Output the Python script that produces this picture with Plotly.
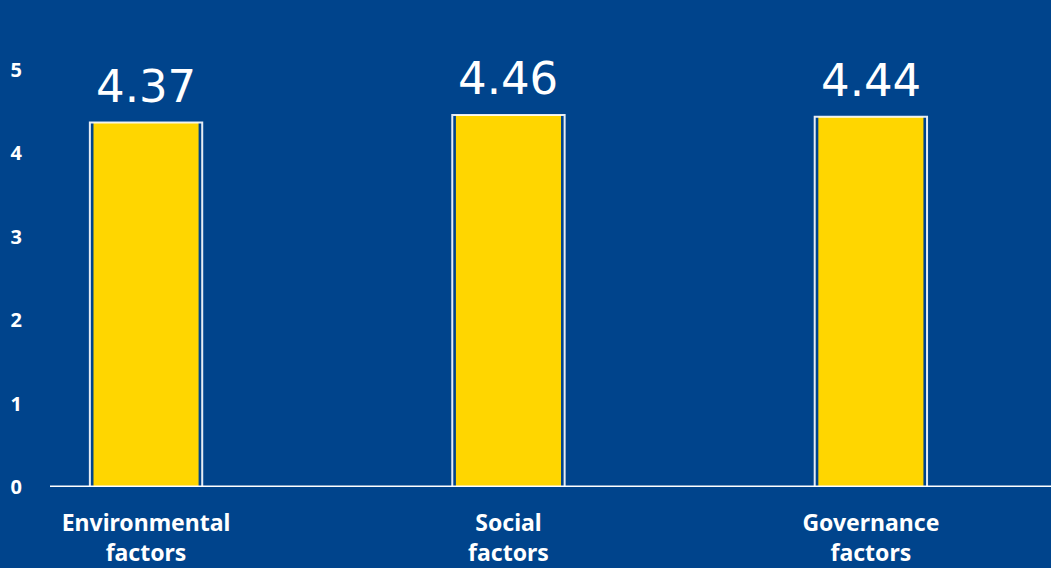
import plotly.graph_objects as go

# Average importance scores for the three ESG pillars
categories = ["Environmental<br>factors", "Social<br>factors", "Governance<br>factors"]
scores = [4.37, 4.46, 4.44]
score_labels = ["4.37", "4.46", "4.44"]
y_ticks = [0, 1, 2, 3, 4, 5]

BG = "#00448C"
YELLOW = "#FFD600"
x_idx = list(range(len(categories)))

fig = go.Figure()

# Yellow filled bars
fig.add_trace(go.Bar(
    x=x_idx, y=scores, width=0.29,
    marker=dict(color=YELLOW, line=dict(width=0)),
    hoverinfo="skip", showlegend=False,
))

# Sketchy white outline slightly wider than the filled bars
fig.add_trace(go.Bar(
    x=x_idx, y=scores, width=0.31,
    marker=dict(color="rgba(0,0,0,0)", line=dict(color="rgba(255,255,255,0.9)", width=2)),
    hoverinfo="skip", showlegend=False,
))

# Hand-lettered value labels above each bar
for xi, val, lab in zip(x_idx, scores, score_labels):
    fig.add_annotation(
        x=xi, y=val, text=lab, showarrow=False,
        yanchor="bottom", yshift=8,
        font=dict(family="DejaVu Sans", size=45, color="white"),
    )

fig.update_layout(
    width=1051, height=568,
    paper_bgcolor=BG, plot_bgcolor=BG,
    margin=dict(l=50, r=0, t=0, b=81),
    barmode="overlay",
    font=dict(family="Noto Sans", color="white"),
    xaxis=dict(
        range=[-0.265, 2.497],
        tickmode="array", tickvals=x_idx,
        ticktext=["<b>" + c + "</b>" for c in categories],
        tickfont=dict(family="Noto Sans", size=23, color="white"),
        showgrid=False, zeroline=False, showline=False, ticks="",
        ticklabelstandoff=20,
    ),
    yaxis=dict(
        range=[0, 5.84],
        tickmode="array", tickvals=y_ticks,
        ticktext=["<b>%d</b>" % v for v in y_ticks],
        tickfont=dict(family="Noto Sans", size=20, color="white"),
        showgrid=False, zeroline=False, showline=False, ticks="",
        ticklabelstandoff=27,
    ),
)

# White baseline along zero
fig.add_shape(type="line", xref="paper", yref="y", x0=0, x1=1, y0=0, y1=0,
              line=dict(color="white", width=3), layer="above")

fig.write_html("out.html")
